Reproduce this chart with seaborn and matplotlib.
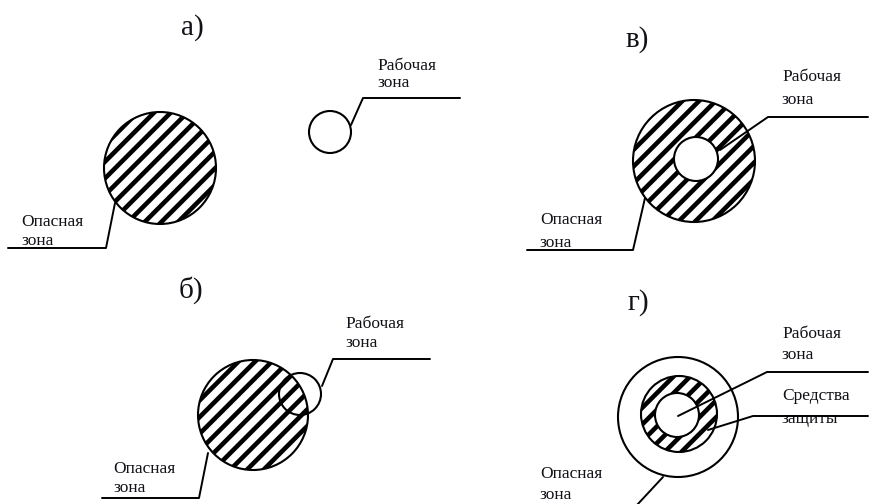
import matplotlib
matplotlib.use("Agg")
import matplotlib.pyplot as plt
import seaborn as sns
import pandas as pd
from matplotlib.patches import Circle

sns.set_theme(style="white")
plt.rcParams["font.family"] = ["Liberation Serif", "DejaVu Serif"]
plt.rcParams["hatch.linewidth"] = 3.3
plt.rcParams["hatch.color"] = "black"

# ---- diagram data (pixel coordinates of the 869x504 canvas) ----
panel_labels = ["а)", "в)", "б)", "г)"]
panel_label_x = [192, 637, 191, 638]
panel_label_y = [35, 47, 298, 310]

# circles: centre x, centre y, radius, kind
circle_x = [160, 330, 694, 696, 253, 300, 678, 679, 677]
circle_y = [168, 132, 161, 159, 415, 394, 417, 414, 415]
circle_r = [56, 21, 61, 22, 55, 21, 60, 38, 22]
circle_kind = ["hatch", "open", "hatch", "white", "hatch", "open", "open", "hatch", "white"]

# leader lines (polylines)
leader_x = [
    [351, 363, 460],
    [115, 106, 8],
    [720, 768, 868],
    [645, 633, 527],
    [322, 333, 430],
    [208, 199, 102],
    [678, 767, 868],
    [708, 753, 868],
    [663, 637],
]
leader_y = [
    [125, 98, 98],
    [203, 248, 248],
    [150, 117, 117],
    [198, 250, 250],
    [386, 359, 359],
    [453, 498, 498],
    [416, 372, 372],
    [430, 416, 416],
    [477, 505],
]

# small labels
text_lines = ["Рабочая", "зона", "Опасная", "зона",
              "Рабочая", "зона", "Опасная", "зона",
              "Рабочая", "зона", "Опасная", "зона",
              "Рабочая", "зона", "Средства", "защиты", "Опасная", "зона"]
text_x = [377, 377, 21, 21,
          782, 782, 540, 540,
          345, 345, 113, 113,
          782, 782, 782, 782, 540, 540]
text_y = [70, 87, 226, 245,
          81, 104, 224, 247,
          328, 347, 473, 492,
          338, 359, 400, 423, 478, 499]

fig = plt.figure(figsize=(8.69, 5.04), dpi=100)
ax = fig.add_axes([0, 0, 1, 1])
ax.set_xlim(0, 869)
ax.set_ylim(504, 0)
ax.set_aspect("equal")
ax.axis("off")

ink = "#111118"
for cx, cy, r, kind in zip(circle_x, circle_y, circle_r, circle_kind):
    if kind == "hatch":
        p = Circle((cx, cy), r, facecolor="white", edgecolor="black", hatch="//", lw=1.5, zorder=2)
    elif kind == "white":
        p = Circle((cx, cy), r, facecolor="white", edgecolor="black", lw=1.5, zorder=3)
    else:
        p = Circle((cx, cy), r, facecolor="none", edgecolor="black", lw=1.5, zorder=4)
    ax.add_patch(p)

for i, (xs, ys) in enumerate(zip(leader_x, leader_y)):
    df = pd.DataFrame({"x": xs, "y": ys})
    sns.lineplot(data=df, x="x", y="y", sort=False, estimator=None, color="black",
                 lw=1.4, ax=ax, zorder=6)

for s, x, y in zip(text_lines, text_x, text_y):
    ax.text(x, y, s, fontsize=12.5, color=ink, ha="left", va="baseline", zorder=5)

for s, x, y in zip(panel_labels, panel_label_x, panel_label_y):
    ax.text(x, y, s, fontsize=21, color=ink, ha="center", va="baseline", zorder=5)

ax.set_xlim(0, 869)
ax.set_ylim(504, 0)
ax.set_xlabel("")
ax.set_ylabel("")
fig.savefig("out.png", dpi=100)
